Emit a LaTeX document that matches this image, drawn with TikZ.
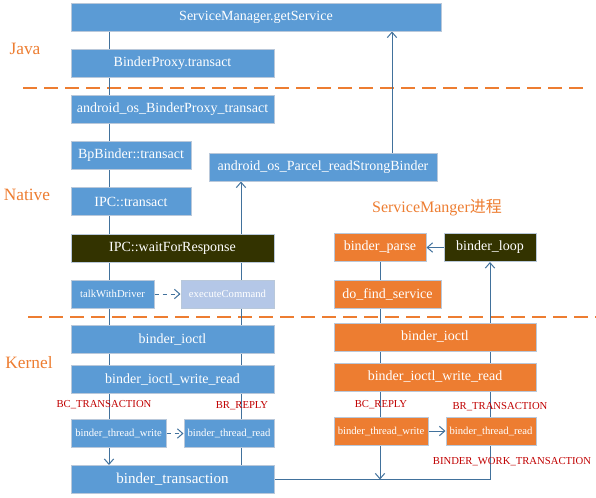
\documentclass[tikz,border=0pt]{standalone}
\usepackage{fontspec}
\setmainfont{Liberation Serif}
\newfontfamily\cjk{Noto Sans CJK SC}
\usetikzlibrary{arrows.meta, backgrounds}

\definecolor{boxblue}{HTML}{5B9BD5}
\definecolor{boxorange}{HTML}{ED7D31}
\definecolor{boxdark}{HTML}{333300}
\definecolor{boxpale}{HTML}{B4C7E7}
\definecolor{boxline}{HTML}{B9C8DA}
\definecolor{wire}{HTML}{41719C}
\definecolor{sep}{HTML}{ED7D31}
\definecolor{tag}{HTML}{C00000}

\begin{document}
\begin{tikzpicture}[x=0.75pt, y=-0.75pt, >={Straight Barb[length=4pt,width=7pt]}, semithick,
    every node/.style={font=\fontsize{10.5}{12}\selectfont},
    blk/.style={draw=boxline, line width=0.75pt, fill=boxblue, text=white, inner sep=0pt, minimum height=21pt},
    org/.style={blk, fill=boxorange},
    drk/.style={blk, fill=boxdark},
    pale/.style={blk, fill=boxpale},
    small/.style={font=\fontsize{8}{9}\selectfont},
    layer/.style={text=sep, font=\fontsize{13}{15}\selectfont},
    msg/.style={text=tag, font=\fontsize{8}{9}\selectfont},
    wire/.style={draw=wire, line width=0.75pt},
    sepline/.style={draw=sep, line width=1.5pt, dash pattern=on 10.5pt off 5.25pt}]

    \useasboundingbox (0,0) rectangle (596,497);

    % client side
    \node[blk, minimum width=277.5pt]  (SM)  at (256,17)      {ServiceManager.getService};
    \node[blk, minimum width=152.25pt] (BPT) at (172.5,63.5)  {BinderProxy.transact};
    \node[blk, minimum width=152.25pt] (ABT) at (172.5,109)   {android\_os\_BinderProxy\_transact};
    \node[blk, minimum width=90pt]     (BPB) at (131,155)     {BpBinder::transact};
    \node[blk, minimum width=171pt]    (PRS) at (323,167)     {android\_os\_Parcel\_readStrongBinder};
    \node[blk, minimum width=90pt]     (IPT) at (131,201.5)   {IPC::transact};
    \node[drk, minimum width=152.25pt] (WFR) at (172.5,248.5) {IPC::waitForResponse};
    \node[blk, small, minimum width=62.25pt]  (TWD) at (112.5,294) {talkWithDriver};
    \node[pale, small, minimum width=69.75pt] (EXC) at (227.5,294) {executeCommand};

    % kernel, client side
    \node[blk, minimum width=152.25pt] (IOC) at (172.5,339.5) {binder\_ioctl};
    \node[blk, minimum width=152.25pt] (IWR) at (172.5,379.5) {binder\_ioctl\_write\_read};
    \node[blk, small, minimum width=71.25pt] (TW) at (118.5,433.5) {binder\_thread\_write};
    \node[blk, small, minimum width=67.5pt]  (TR) at (229,433.5)   {binder\_thread\_read};
    \node[blk, minimum width=152.25pt, font=\fontsize{11.3}{13}\selectfont] (BT) at (172.5,479.5) {binder\_transaction};

    % servicemanager side
    \node[org, minimum width=69pt]     (PAR)  at (380,247.5) {binder\_parse};
    \node[drk, minimum width=69pt]     (LOOP) at (490,247.5) {binder\_loop};
    \node[org, minimum width=80.25pt]  (DFS)  at (387.5,294) {do\_find\_service};
    \node[org, minimum width=151.5pt]  (RIOC) at (435,337)   {binder\_ioctl};
    \node[org, minimum width=151.5pt]  (RIWR) at (435,377)   {binder\_ioctl\_write\_read};
    \node[org, small, minimum width=70.5pt] (RTW) at (381,431) {binder\_thread\_write};
    \node[org, small, minimum width=67.5pt] (RTR) at (491,431) {binder\_thread\_read};

    % labels
    \node[layer] (java)   at (25,49)  {Java};
    \node[layer] (native) at (27,195) {Native};
    \node[layer] (kernel) at (29,363) {Kernel};
    \node[text=sep, font=\fontsize{12}{14}\selectfont] (smp) at (437,208) {ServiceManger{\cjk 进程}};
    \node[msg] (bct) at (104,405) {BC\_TRANSACTION};
    \node[msg] (brr) at (242,406) {BR\_REPLY};
    \node[msg] (bcr) at (381,405) {BC\_REPLY};
    \node[msg] (brt) at (500,407) {BR\_TRANSACTION};
    \node[msg] (bwt) at (512,462) {BINDER\_WORK\_TRANSACTION};

    \coordinate (L) at (109,0);
    \coordinate (M) at (241,0);
    \coordinate (N) at (392,0);

    \begin{scope}[on background layer]
        \draw[sepline] (23,88) -- (588,88);
        \draw[sepline] (28,317) -- (596,317);
        \draw[wire, ->] (SM.south -| L) -- (BT.north -| L);
        \draw[wire, ->] (BT.north -| M) -- (PRS.south -| M);
        \draw[wire, ->] (PRS.north -| N) -- (SM.south -| N);
        \draw[wire, ->] (PAR.south) -- (PAR.south |- BT.east);
        \draw[wire, ->] (BT.east) -| (LOOP.south);
    \end{scope}

    \path (TWD) edge[wire, ->, dashed] (EXC)
          (TW)  edge[wire, ->, dashed] (TR)
          (LOOP) edge[wire, ->] (PAR)
          (RTW) edge[wire, ->] (RTR);
\end{tikzpicture}
\end{document}
